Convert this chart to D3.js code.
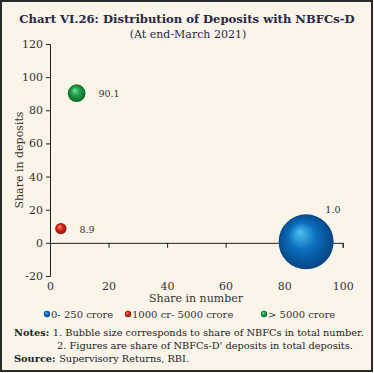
<!DOCTYPE html>
<meta charset="utf-8">
<script src="https://d3js.org/d3.v7.min.js"></script>
<style>
  body { margin: 0; background: #fff; }
  svg { display: block; font-family: "DejaVu Serif", serif; }
</style>
<div id="chart"></div>
<script>

// data
const groups = ["0- 250 crore", "1000 cr- 5000 crore", "> 5000 crore"];
const shareNumber = [87.5, 3.7, 9.1];     // x, also bubble size
const shareDeposits = [0.6, 8.6, 90.3];   // y position
const labels = ["1.0", "8.9", "90.1"];
const colors = ["#0b6fc0", "#d42a1e", "#1f9e48"];
const lights = ["#4cc3f0", "#ff8a70", "#6fe39a"];
const darks = ["#063f7a", "#8a0d08", "#0c6028"];
const xTicks = [0, 20, 40, 60, 80, 100];
const yTicks = [-20, 0, 20, 40, 60, 80, 100, 120];

const W = 374, H = 373;
const svg = d3.select("#chart").append("svg")
  .attr("width", W).attr("height", H);

// background and frame
svg.append("rect")
  .attr("x", 1).attr("y", 1).attr("width", W - 3).attr("height", H - 3)
  .attr("fill", "#fbf4e9").attr("stroke", "#2a2a2a").attr("stroke-width", 2);

// title
svg.append("text")
  .attr("x", 187).attr("y", 23).attr("text-anchor", "middle")
  .style("font-size", "11.6px").style("font-weight", "bold").style("fill", "#27284a")
  .text("Chart VI.26: Distribution of Deposits with NBFCs-D");
svg.append("text")
  .attr("x", 188).attr("y", 38).attr("text-anchor", "middle")
  .style("font-size", "11px").style("fill", "#27284a")
  .text("(At end-March 2021)");

const x = d3.scaleLinear().domain([0, 100]).range([50, 342.7]);
const y = d3.scaleLinear().domain([-20, 120]).range([276, 44]);
const r = d3.scaleSqrt().domain([0, 87.5]).range([0, 27.5]);

// y axis
const yAxis = svg.append("g")
  .attr("transform", `translate(${x(0)},0)`)
  .call(d3.axisLeft(y).tickValues(yTicks).tickSize(4).tickSizeOuter(4)
    .tickFormat(d => String(d)));
yAxis.selectAll("text").style("font-size", "11px").style("fill", "#333")
  .style("font-family", "DejaVu Serif, serif");

// x axis sits on y = 0, labels pushed below the plot
const xAxis = svg.append("g")
  .attr("transform", `translate(0,${y(0)})`)
  .call(d3.axisBottom(x).tickValues(xTicks).tickSize(5).tickSizeOuter(5)
    .tickFormat(d => String(d)));
xAxis.selectAll("text")
  .attr("y", y(-20) - y(0) + 6).attr("dy", "0.71em")
  .style("font-size", "11px").style("fill", "#333")
  .style("font-family", "DejaVu Serif, serif");
xAxis.selectAll("line,path").attr("stroke", "#222");
yAxis.selectAll("line,path").attr("stroke", "#222");

// axis titles
svg.append("text")
  .attr("transform", `translate(23,${y(50)}) rotate(-90)`)
  .attr("text-anchor", "middle")
  .style("font-size", "11px").style("fill", "#333")
  .text("Share in deposits");
svg.append("text")
  .attr("x", 196).attr("y", 302).attr("text-anchor", "middle")
  .style("font-size", "11px").style("fill", "#333")
  .text("Share in number");

// gradients for the 3-D bubbles
const defs = svg.append("defs");
groups.forEach((g, i) => {
  const grad = defs.append("radialGradient")
    .attr("id", "grad" + i)
    .attr("cx", "50%").attr("cy", "50%").attr("r", "55%")
    .attr("fx", "38%").attr("fy", "32%");
  grad.append("stop").attr("offset", "0%").attr("stop-color", lights[i]);
  grad.append("stop").attr("offset", "45%").attr("stop-color", colors[i]);
  grad.append("stop").attr("offset", "100%").attr("stop-color", darks[i]);
});

const data = groups.map((g, i) => ({
  g, i, xv: shareNumber[i], yv: shareDeposits[i], label: labels[i]
}));

svg.append("g").selectAll("circle")
  .data(data)
  .join("circle")
  .attr("cx", d => x(d.xv))
  .attr("cy", d => y(d.yv))
  .attr("r", d => r(d.xv))
  .attr("fill", d => `url(#grad${d.i})`);

svg.append("g").selectAll("text")
  .data(data)
  .join("text")
  .attr("x", d => r(d.xv) > 20 ? x(d.xv) + r(d.xv) * 0.7 : x(d.xv) + r(d.xv) + 13)
  .attr("y", d => r(d.xv) > 20 ? y(d.yv) - r(d.xv) - 1 : y(d.yv) + 4)
  .style("font-size", "9.5px").style("fill", "#333")
  .text(d => d.label);

// legend
const legendX = [47, 128, 264];
const legend = svg.append("g").selectAll("g")
  .data(data)
  .join("g")
  .attr("transform", (d, i) => `translate(${legendX[i]},314)`);
legend.append("circle").attr("r", 3.2).attr("fill", d => `url(#grad${d.i})`);
legend.append("text")
  .attr("x", 4).attr("y", 3.5)
  .style("font-size", "10px").style("fill", "#333")
  .text(d => d.g);

// notes
const notes = svg.append("g").style("font-size", "9.8px").style("fill", "#222");
const n1 = notes.append("text").attr("x", 14).attr("y", 336);
n1.append("tspan").style("font-weight", "bold").text("Notes: ");
n1.append("tspan").text("1. Bubble size corresponds to share of NBFCs in total number.");
notes.append("text").attr("x", 57).attr("y", 349)
  .text("2. Figures are share of NBFCs-D' deposits in total deposits.");
const n3 = notes.append("text").attr("x", 14).attr("y", 362);
n3.append("tspan").style("font-weight", "bold").text("Source: ");
n3.append("tspan").text("Supervisory Returns, RBI.");

</script>
